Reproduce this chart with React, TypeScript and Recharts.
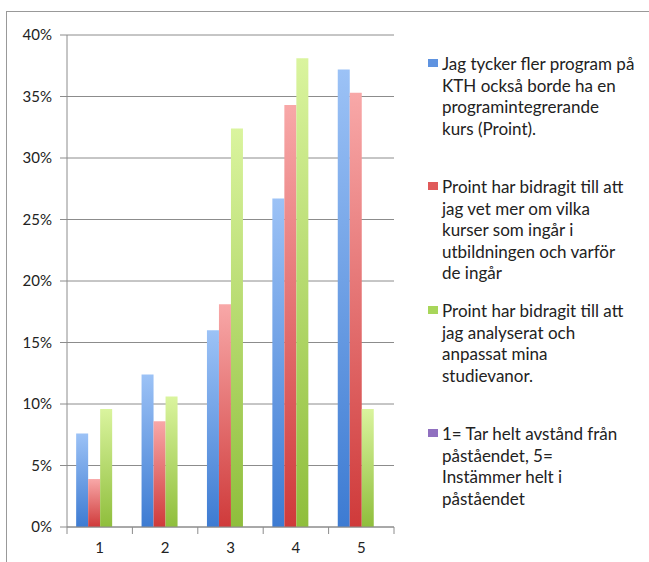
import { BarChart, Bar, XAxis, YAxis, CartesianGrid } from 'recharts'

const categories = ['1', '2', '3', '4', '5']
const wantMore = [0.076, 0.124, 0.16, 0.267, 0.372]
const learnedCourses = [0.039, 0.086, 0.181, 0.343, 0.353]
const studyHabits = [0.096, 0.106, 0.324, 0.381, 0.096]
const scaleNote = [0, 0, 0, 0, 0]
const yTicks = [0, 0.05, 0.1, 0.15, 0.2, 0.25, 0.3, 0.35, 0.4]

const legendItems = [
  { label: ['Jag tycker fler program på', 'KTH också borde ha en', 'programintegrerande', 'kurs (Proint).'], color: '#5f93e0', top: 53 },
  { label: ['Proint har bidragit till att', 'jag vet mer om vilka', 'kurser som ingår i', 'utbildningen och varför', 'de ingår'], color: '#e05a5a', top: 176 },
  { label: ['Proint har bidragit till att', 'jag analyserat och', 'anpassat mina', 'studievanor.'], color: '#a8d65a', top: 300 },
  { label: ['1= Tar helt avstånd från', 'påståendet, 5=', 'Instämmer helt i', 'påståendet'], color: '#9070c0', top: 423 },
]

const data = categories.map((c, i) => ({
  cat: c,
  a: wantMore[i],
  b: learnedCourses[i],
  c: studyHabits[i],
  d: scaleNote[i],
}))

const PLOT_LEFT = 67
const PLOT_RIGHT = 394
const HALF = (PLOT_RIGHT - PLOT_LEFT) / categories.length / 2
const FONT = 'Lato, "Open Sans", sans-serif'

function XTick(props: any) {
  const { x, y, payload, index } = props
  const last = index === categories.length - 1
  return (
    <g>
      <line x1={x - HALF} x2={x - HALF} y1={y - 8} y2={y - 1} stroke="#8c8c8c" />
      {last && <line x1={x + HALF} x2={x + HALF} y1={y - 8} y2={y - 1} stroke="#8c8c8c" />}
      <text x={x} y={y + 18} textAnchor="middle" fontSize={15} fill="#222" fontFamily={FONT}>
        {payload.value}
      </text>
    </g>
  )
}

export default function App() {
  return (
    <div style={{ position: 'fixed', left: 0, top: 0, width: 649, height: 562, background: '#fff', fontFamily: FONT }}>
      <div style={{ position: 'absolute', left: 6, top: 11, right: 0, bottom: 0, borderLeft: '1px solid #999', borderTop: '1px solid #999' }} />
      <BarChart
        width={649}
        height={562}
        data={data}
        margin={{ top: 35, right: 649 - PLOT_RIGHT, left: 0, bottom: 0 }}
        barCategoryGap="14%"
        barGap={0}
      >
        <defs>
          <linearGradient id="gBlue" x1="0" y1="0" x2="0" y2="1">
            <stop offset="0%" stopColor="#9cc2f6" />
            <stop offset="100%" stopColor="#3d7bd2" />
          </linearGradient>
          <linearGradient id="gRed" x1="0" y1="0" x2="0" y2="1">
            <stop offset="0%" stopColor="#f8a8a8" />
            <stop offset="100%" stopColor="#cf3a3a" />
          </linearGradient>
          <linearGradient id="gGreen" x1="0" y1="0" x2="0" y2="1">
            <stop offset="0%" stopColor="#daf49e" />
            <stop offset="100%" stopColor="#8fbe3c" />
          </linearGradient>
          <linearGradient id="gPurple" x1="0" y1="0" x2="0" y2="1">
            <stop offset="0%" stopColor="#b49ad8" />
            <stop offset="100%" stopColor="#7656aa" />
          </linearGradient>
        </defs>
        <CartesianGrid vertical={false} stroke="#8c8c8c" />
        <XAxis
          dataKey="cat"
          height={35}
          axisLine={{ stroke: '#8c8c8c' }}
          tickLine={false}
          tick={<XTick />}
          interval={0}
        />
        <YAxis
          width={PLOT_LEFT}
          domain={[0, 0.4]}
          ticks={yTicks}
          interval={0}
          tickFormatter={(v: number) => `${Math.round(v * 100)}%`}
          axisLine={{ stroke: '#8c8c8c' }}
          tickLine={{ stroke: '#8c8c8c' }}
          tickSize={7}
          tickMargin={8}
          tick={{ fontSize: 15, fill: '#222', fontFamily: FONT }}
        />
        <Bar dataKey="a" fill="url(#gBlue)" isAnimationActive={false} />
        <Bar dataKey="b" fill="url(#gRed)" isAnimationActive={false} />
        <Bar dataKey="c" fill="url(#gGreen)" isAnimationActive={false} />
        <Bar dataKey="d" fill="url(#gPurple)" isAnimationActive={false} />
      </BarChart>
      {legendItems.map((item) => (
        <div key={item.top} style={{ position: 'absolute', left: 428, top: item.top, fontSize: 17, lineHeight: '21.6px', color: '#222' }}>
          <div style={{ position: 'absolute', left: 0, top: 6, width: 10, height: 8, background: item.color }} />
          <div style={{ marginLeft: 14 }}>
            {item.label.map((l) => (
              <div key={l} style={{ whiteSpace: 'nowrap' }}>{l}</div>
            ))}
          </div>
        </div>
      ))}
    </div>
  )
}
